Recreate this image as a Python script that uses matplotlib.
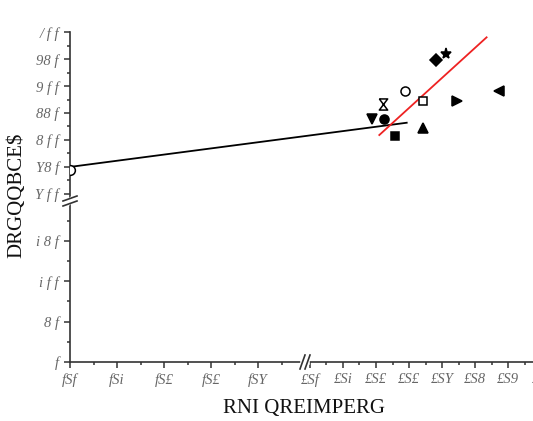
import numpy as np
import matplotlib
matplotlib.use("Agg")
import matplotlib.pyplot as plt

# tick values and the labels as they show up in the reference
y_ticks = [0, 50, 100, 150, 400, 450, 500, 550, 600, 650, 700]
y_labels = ["f", "8 f", "i f f", "i 8 f", "Y f f", "Y8 f", "8 f f", "88 f", "9 f f", "98 f", "/ f f"]
y_minor = [25, 75, 125, 175, 425, 475, 525, 575, 625, 675]
x_ticks = [0.0, 0.1, 0.2, 0.3, 0.4, 2.0, 2.1, 2.2, 2.3, 2.4, 2.5, 2.6, 2.7]
x_labels = ["fSf", "fSi", "fS£", "fS£", "fSY", "£Sf", "£Si", "£S£", "£S£",
            "£SY", "£S8", "£S9", "£S/"]
x_minor = [0.05, 0.15, 0.25, 0.35, 0.45, 2.05, 2.15, 2.25, 2.35, 2.45, 2.55, 2.65]

# scatter points
pt_x = [2.382, 2.412, 2.288, 2.222, 2.342, 2.445, 2.574, 2.189, 2.224, 2.342, 2.258, 0.0]
pt_y = [648.7, 659.9, 591.5, 566.8, 572.4, 572.4, 591.0, 538.8, 539.4, 522.6, 507.7, 443.8]

# fitted lines (end points)
black_x = [0.0, 2.293]
black_y = [449.6, 531.9]
red_x = [2.210, 2.535]
red_y = [509.0, 691.0]

hourglass = [(-0.75, 1), (0.75, 1), (-0.75, -1), (0.75, -1), (-0.75, 1)]
styles = [("D", True), ("*", True), ("o", False), (hourglass, False), ("s", False),
          (">", True), ("<", True), ("v", True), ("o", True), ("^", True),
          ("s", True), ("o", False)]
sizes = [6, 8, 6.5, 8, 6, 7, 7, 7, 6.5, 7, 6, 7]


def broken(a, b, k1, k2, off2):
    # piecewise linear map with a jump between a and b
    lo, hi = -1e4, 1e4
    xp = [lo, 0, a, b, hi]
    fp = [lo * k1, 0, a * k1, off2, off2 + (hi - b) * k2]
    fwd = lambda v: np.interp(v, xp, fp)
    inv = lambda v: np.interp(v, fp, xp)
    return fwd, inv


# x: left part 470 px per unit, right part 330 px per unit
xf, xi = broken(0.494, 1.977, 470.0, 330.0, 232.3)
# y: lower part 0.807 px per unit, upper part 0.5367 px per unit
yf, yi = broken(197.0, 383.0, 0.807, 0.5367, 159.3)

fig = plt.figure(figsize=(5.33, 4.21), dpi=100)
ax = fig.add_axes([70 / 533, 59 / 421, 478 / 533, 329.5 / 421])
ax.set_xscale("function", functions=(xf, xi))
ax.set_yscale("function", functions=(yf, yi))

ax.plot(black_x, black_y, color="black", lw=1.3, zorder=3)
ax.plot(red_x, red_y, color="#ee2222", lw=1.3, zorder=3)
for x, y, (m, filled), s in zip(pt_x, pt_y, styles, sizes):
    ax.plot([x], [y], marker=m, ms=s, ls="none", color="black",
            markerfacecolor="black" if filled else "white",
            markeredgewidth=1.1, zorder=4)

ax.set_xlim(0, 2.721)
ax.set_ylim(0, 700)
ax.set_yticks(y_ticks)
ax.set_yticklabels(y_labels)
ax.set_yticks(y_minor, minor=True)
ax.set_xticks(x_ticks)
ax.set_xticklabels(x_labels)
ax.set_xticks(x_minor, minor=True)

for s in ["top", "right"]:
    ax.spines[s].set_visible(False)
for s in ["left", "bottom"]:
    ax.spines[s].set_linewidth(1.2)
    ax.spines[s].set_color("#333333")
ax.tick_params(which="major", direction="out", length=4.5, width=1.1,
               color="#333333", labelsize=10.5, labelcolor="#666666")
ax.tick_params(which="minor", direction="out", length=2.5, width=1.1, color="#333333")
for lab in ax.get_xticklabels() + ax.get_yticklabels():
    lab.set_family("Liberation Serif")
    lab.set_style("italic")

# break marks
yb = (362 - 201) / 329.5
dx, dy = 7 / 478, 2.5 / 329.5
ax.plot([-dx * 0.3, dx * 0.3], [yb - 2 / 329.5, yb + 2 / 329.5], transform=ax.transAxes,
        color="white", lw=4, clip_on=False, zorder=5)
for off in (-2.5 / 329.5, 2.5 / 329.5):
    ax.plot([-dx, dx], [yb + off - dy, yb + off + dy], transform=ax.transAxes,
            color="#333333", lw=1.2, clip_on=False, zorder=6)
xb = (305 - 70) / 478
dx2, dy2 = 2.5 / 478, 7 / 329.5
ax.plot([xb - 2 / 478, xb + 2 / 478], [0, 0], transform=ax.transAxes,
        color="white", lw=4, clip_on=False, zorder=5)
for off in (-2.5 / 478, 2.5 / 478):
    ax.plot([xb + off - dx2, xb + off + dx2], [-dy2, dy2], transform=ax.transAxes,
            color="#333333", lw=1.2, clip_on=False, zorder=6)

fig.text(304 / 533, 1 - 408 / 421, "RNI QREIMPERG", ha="center", va="center",
         fontsize=15, family="Liberation Serif", color="#111111")
fig.text(17 / 533, 1 - 195 / 421, "DRGQQBCE$", ha="center", va="center",
         rotation=90, fontsize=15, family="Liberation Serif", color="#111111")

fig.savefig("out.png", dpi=100)
